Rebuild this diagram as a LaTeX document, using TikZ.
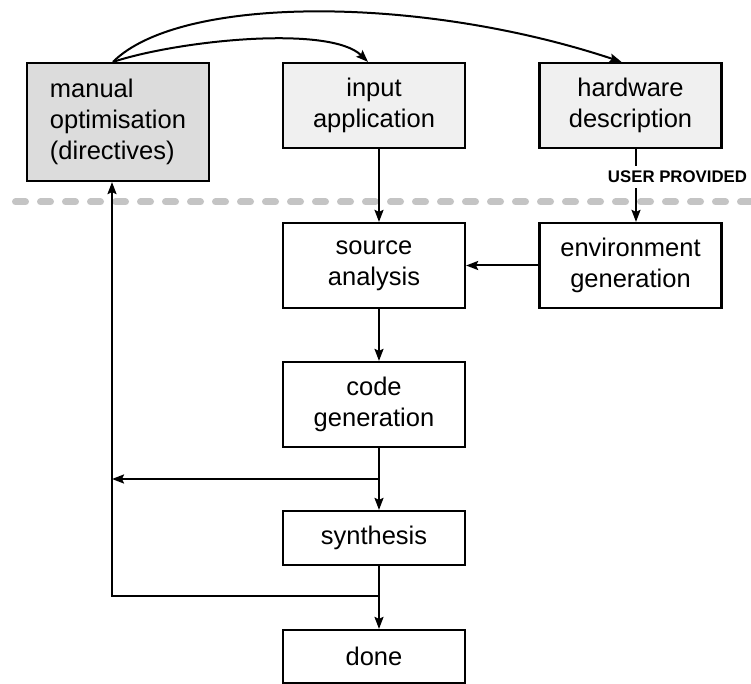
\documentclass[tikz,border=0pt]{standalone}
\usepackage{fontspec}
\setmainfont{Liberation Sans}
\usetikzlibrary{arrows.meta,calc}

\definecolor{manualfill}{HTML}{DCDCDC}
\definecolor{inputfill}{HTML}{F0F0F0}
\definecolor{divider}{HTML}{C4C4C4}

\begin{document}
\begin{tikzpicture}[x=1pt,y=-1pt,
  box/.style={draw,line width=2.2pt,minimum width=182pt,inner sep=0pt,
              align=center,font=\fontsize{25.5}{31}\selectfont},
  link/.style={line width=2pt,-{Stealth[length=12pt,width=9pt,inset=2pt]}},
  plain/.style={line width=2pt},
  userlbl/.style={fill=white,inner xsep=1pt,inner ysep=5.5pt,
                  font=\bfseries\fontsize{16.8}{18}\selectfont},
]
\useasboundingbox (0,0) rectangle (751,684);

% boundary between user-provided inputs and the automated flow
\draw[divider,line width=7pt,line cap=round,dash pattern=on 10pt off 15pt]
  (15.5,202) -- (765,202);

% user-provided inputs
\node[box,fill=manualfill,minimum height=118pt,align=left] (man) at (118,122)
  {manual\\optimisation\\(directives)};
\node[box,fill=inputfill,minimum height=85pt] (inp) at (374,105.5) {input\\application};
\node[box,fill=inputfill,minimum height=85pt] (hw) at (630.5,105.5) {hardware\\description};

% automated flow
\node[box,minimum height=85pt] (src) at (374,265.5) {source\\analysis};
\node[box,minimum height=85pt] (env) at (630.5,265.5) {environment\\generation};
\node[box,minimum height=85pt] (code) at (374,404.5) {code\\generation};
\node[box,minimum height=54pt] (syn) at (374,538) {synthesis};
\node[box,minimum height=53pt] (done) at (374,656.5) {done};

% branch points of the feedback loop
\coordinate (j1) at (379,479);
\coordinate (j2) at (379,596);
\coordinate (lp) at (112,596);

% directives feed the inputs
\draw[link] ([xshift=-5pt]man.north) .. controls (180,40) and (330,25) .. ([xshift=-6pt]inp.north);
\draw[link] ([xshift=-5pt]man.north) .. controls (180,-5) and (420,-5) .. ([xshift=-9pt]hw.north);

% main chain
\draw[link] ([xshift=5pt]inp.south) -- ([xshift=5pt]src.north);
\draw[link] ([xshift=5.5pt]hw.south) -- ([xshift=5.5pt]env.north);
\node[userlbl] (up) at (677.5,177) {USER PROVIDED};
\draw[link] (env.west) -- (src.east);
\draw[link] ([xshift=5pt]src.south) -- ([xshift=5pt]code.north);
\draw[link] ([xshift=5pt]code.south) -- ([xshift=5pt]syn.north);
\draw[link] ([xshift=5pt]syn.south) -- ([xshift=5pt]done.north);

% feedback to manual optimisation
\draw[link] (j1) -- (j1 -| lp);
\draw[link] (j2) -- (lp) -- ([xshift=-6pt]man.south);
\end{tikzpicture}
\end{document}
